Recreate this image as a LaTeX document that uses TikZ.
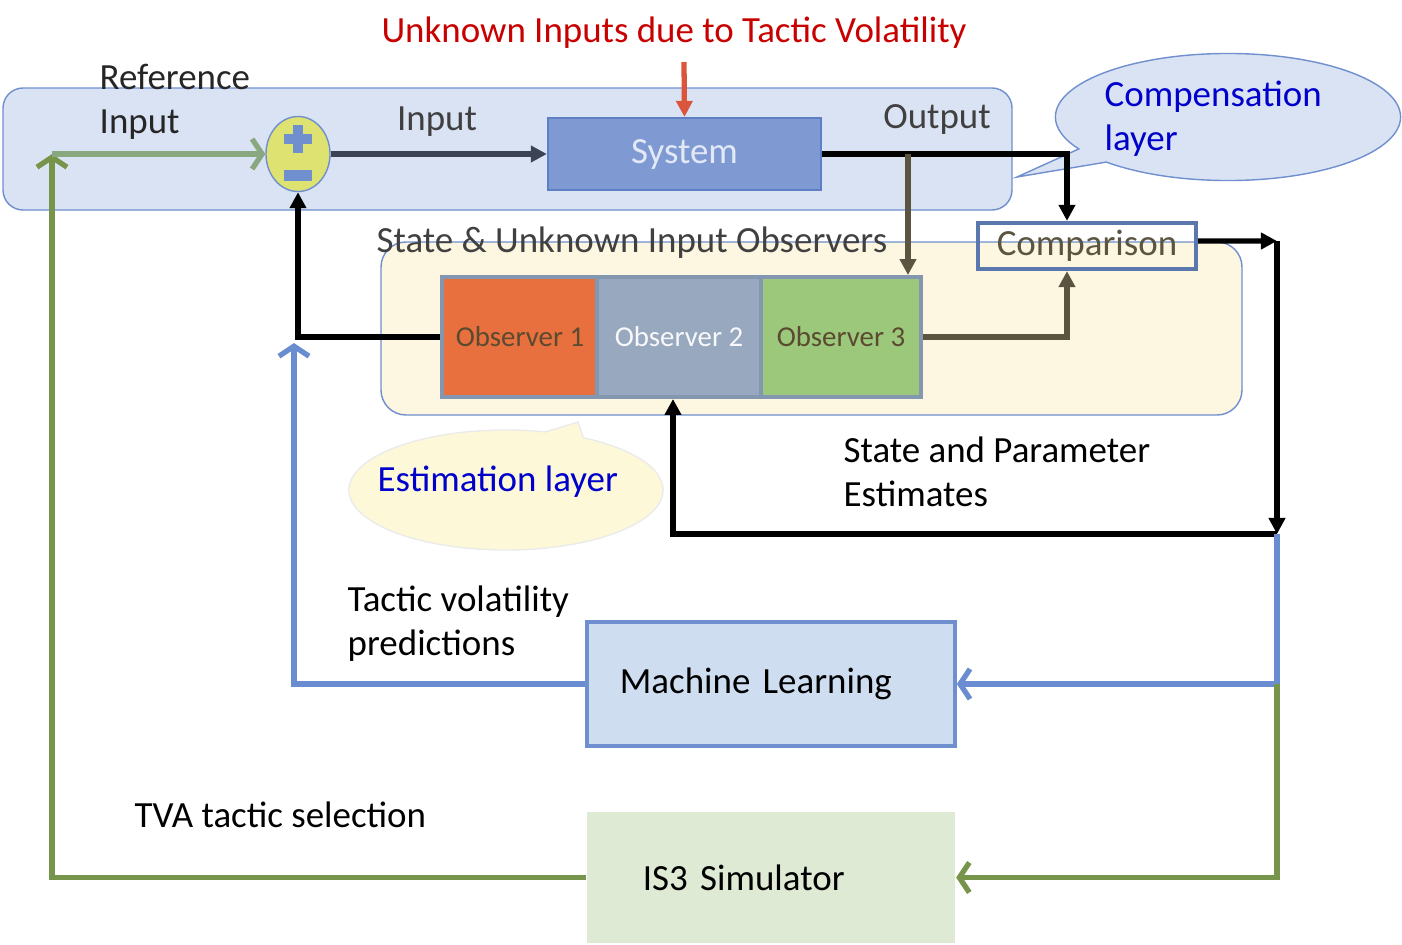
\documentclass[tikz,border=0pt]{standalone}
\usepackage{fontspec}
\setmainfont{Carlito}
\usetikzlibrary{arrows.meta,shapes.geometric,shapes.callouts,backgrounds}

\definecolor{layerblue}{HTML}{DAE3F3}
\definecolor{edgeblue}{HTML}{6F8FCF}
\definecolor{sysblue}{HTML}{7F9AD3}
\definecolor{sysedge}{HTML}{5F7FC4}
\definecolor{syslabel}{HTML}{E2E8F6}
\definecolor{sumyellow}{HTML}{DDE270}
\definecolor{slate}{HTML}{3B4354}
\definecolor{olive}{HTML}{5A5440}
\definecolor{cream}{HTML}{FDF6E0}
\definecolor{estyellow}{HTML}{FDF8D8}
\definecolor{obsorange}{HTML}{E8703E}
\definecolor{obsgray}{HTML}{98A8BF}
\definecolor{obsgreen}{HTML}{9CC87C}
\definecolor{obsframe}{HTML}{8497B0}
\definecolor{obstext}{HTML}{5A4A30}
\definecolor{cmpedge}{HTML}{5A78AE}
\definecolor{mlblue}{HTML}{CFDDF0}
\definecolor{mlline}{HTML}{6A8CD0}
\definecolor{simgreen}{HTML}{DEEAD3}
\definecolor{simline}{HTML}{76954A}
\definecolor{refgreen}{HTML}{8AA880}
\definecolor{textgray}{HTML}{404040}
\definecolor{titlered}{HTML}{C80000}
\definecolor{redarrow}{HTML}{D9553C}
\definecolor{calltext}{HTML}{0000CC}

\begin{document}
\begin{tikzpicture}[x=0.01cm,y=-0.01cm,font=\fontsize{10.5}{12.5}\selectfont]

\tikzstyle{block} = [rectangle, inner sep=0pt, line width=0.6pt];
\tikzstyle{obs} = [block, draw=obsframe, line width=1.1pt, minimum height=1.2cm,
  font=\fontsize{8.2}{10}\selectfont];
\tikzstyle{panel} = [block, minimum width=3.68cm, align=left];
\tikzstyle{lbl} = [inner sep=0pt, anchor=west, align=left];
\tikzstyle{wire} = [line width=1.5pt];
\tikzstyle{tip} = [-{Triangle[length=0.16cm,width=0.16cm]}];
\tikzstyle{barb} = [-{Straight Barb[length=0.1cm,width=0.3cm]}];

\useasboundingbox (0,0) rectangle (1402,945);

\node[text=titlered] (title) at (674,33) {Unknown Inputs due to Tactic Volatility};
\coordinate (ui) at (684,62);

\node[lbl, text=black!85] (refin) at (99,102) {Reference\\Input};
\node[ellipse, draw=edgeblue, fill=sumyellow, minimum width=0.64cm,
  minimum height=0.75cm, inner sep=0pt] (sum) at (298,154) {};
\fill[edgeblue] ([shift={(-5,-29)}]sum.center) rectangle ([shift={(5,-1)}]sum.center);
\fill[edgeblue] ([shift={(-14,-20)}]sum.center) rectangle ([shift={(14,-10)}]sum.center);
\fill[edgeblue] ([shift={(-14,16)}]sum.center) rectangle ([shift={(14,27)}]sum.center);

\node[block, draw=sysedge, fill=sysblue, minimum width=2.73cm,
  minimum height=0.72cm, text=syslabel] (sys) at (684.5,154) {System};
\node[text=textgray] (inlbl) at (437,122) {Input};
\node[text=textgray] (outlbl) at (937,119) {Output};

\node[ellipse callout, draw=edgeblue, fill=layerblue, minimum width=3.45cm,
  minimum height=1.27cm, callout absolute pointer={(1017,177)}] (comp) at (1228,117) {};
\node[lbl, text=calltext] (complbl) at (1104,119) {Compensation\\layer};

\node[block, draw=cmpedge, line width=1.2pt, minimum width=2.18cm,
  minimum height=0.46cm, text=olive] (cmp) at (1087,246) {Comparison};

\node[lbl, text=textgray] (sulbl) at (376,243) {State \& Unknown Input Observers};
\node[obs, fill=obsorange, minimum width=1.56cm, text=obstext] (obs1) at (520,337) {Observer 1};
\node[obs, fill=obsgray, minimum width=1.64cm, text=white!92!obsgray] (obs2) at (679,337) {Observer 2};
\node[obs, fill=obsgreen, minimum width=1.60cm, text=obstext] (obs3) at (841,337) {Observer 3};

\node[lbl] (splbl) at (843,472) {State and Parameter\\Estimates};
\node[ellipse callout, draw=black!8, fill=estyellow, minimum width=3.14cm,
  minimum height=1.2cm, callout absolute pointer={(578,422)}] (est) at (506,490) {};
\node[lbl, text=calltext] (estlbl) at (377,482) {Estimation layer};

\node[lbl] (tvlbl) at (347,624) {Tactic volatility\\predictions};
\node[panel, draw=edgeblue, line width=1pt, fill=mlblue, minimum height=1.24cm,
  inner xsep=0.33cm, text width=3.02cm] (ml) at (771,684) {Machine Learning};

\node[lbl] (tvalbl) at (134,815) {TVA tactic selection};
\node[panel, fill=simgreen, minimum height=1.31cm,
  inner xsep=0.56cm, text width=2.56cm] (sim) at (771,877.5) {IS3 Simulator};

\coordinate (tl) at (52,154);
\coordinate (split) at (908,154);
\coordinate (cr) at (1277,241);
\coordinate (cb) at (1277,534);
\coordinate (mr) at (1277,684);
\coordinate (fb) at (294,343);

\draw[wire, redarrow, tip] (ui) -- (sys.north);
\draw[wire, slate, tip] (sum.east) -- (sys.west);
\draw[wire, tip] (sys.east) -| ([xshift=-0.2cm]cmp.north);
\draw[wire, olive, tip] (split) -- (split |- obs3.north);
\draw[wire, olive, tip] (obs3.east) -| ([xshift=-0.2cm]cmp.south);
\draw[wire, tip] (obs1.west) -| (sum.south);
\draw[wire, tip] ([yshift=0.05cm]cmp.east) -- (cr);
\draw[wire, tip] (cr) -- (cb);
\draw[wire, tip] (cb) -| ([xshift=-0.06cm]obs2.south);
\draw[wire, mlline, barb] (cb) |- (ml.east);
\draw[wire, mlline, barb] (ml.west) -| (fb);
\draw[wire, simline, barb] (mr) |- (sim.east);
\draw[wire, simline, barb] (sim.west) -| (tl);
\draw[wire, refgreen, barb] (tl) -- (sum.west);

\begin{pgfonlayer}{background}
\draw[edgeblue, fill=layerblue, rounded corners=0.2cm] (3,88) rectangle (1012,210);
\draw[edgeblue, fill=cream, rounded corners=0.25cm] (381,242) rectangle (1242,415);
\end{pgfonlayer}

\end{tikzpicture}
\end{document}
